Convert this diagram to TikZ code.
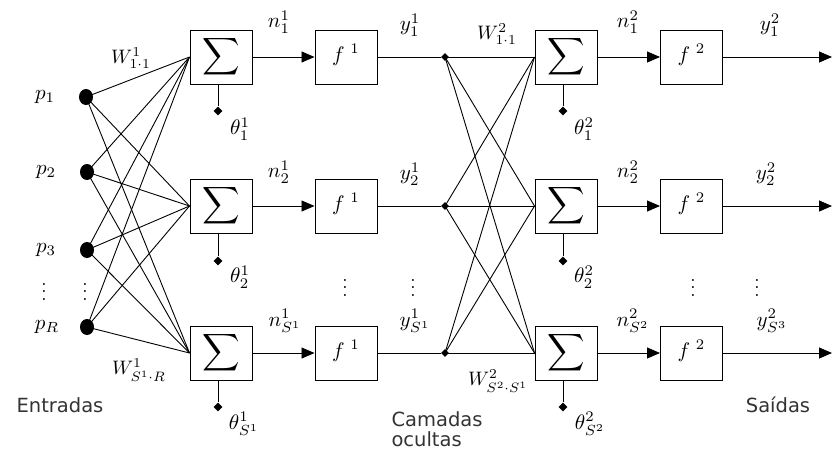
\documentclass[tikz,border=0pt]{standalone}
\usepackage{fontspec}
\setsansfont{DejaVu Sans}
\usetikzlibrary{arrows.meta,shapes.geometric}
\begin{document}
\begin{tikzpicture}[x=1pt,y=-1pt,
  box/.style={draw, line width=1pt, minimum width=62pt, minimum height=54pt, inner sep=0pt},
  lab/.style={scale=2.1, inner sep=0pt},
  wlab/.style={scale=1.95, inner sep=0pt},
  captxt/.style={font=\sffamily, scale=1.95, text=black!80, inner sep=0pt, align=left},
  sig/.style={scale=2.6, inner sep=0pt},
  flab/.style={scale=2.1, inner sep=0pt},
  inp/.style={ellipse, fill=black, minimum width=14pt, minimum height=16pt, inner sep=0pt},
  jn/.style={diamond, fill=black, minimum size=8pt, inner sep=0pt},
  bdot/.style={diamond, fill=black, minimum size=9pt, inner sep=0pt},
  wire/.style={line width=0.9pt},
  arr/.style={wire, -{Triangle[length=13pt,width=11pt]}},
  vd/.style={scale=1.9, inner sep=0pt}
]
\useasboundingbox (0,0) rectangle (834,453);

% inputs
\node[inp] (p1) at (86,97) {};
\node[inp] (p2) at (87,172) {};
\node[inp] (p3) at (87,250) {};
\node[inp] (pR) at (87,327) {};
\node[lab] (lp1) at (45,97) {$p_1$};
\node[lab] (lp2) at (46,172) {$p_2$};
\node[lab] (lp3) at (46,250) {$p_3$};
\node[lab] (lpR) at (47,327) {$p_R$};
\node[vd] (vd1) at (44,286) {$\vdots$};
\node[vd] (vd2) at (85,286) {$\vdots$};

% rows
\foreach \i/\y in {1/57,2/206,3/353}{
  \node[box] (s1\i) at (221,\y) {};
  \node[box] (f1\i) at (346,\y) {};
  \node[jn] (j\i) at (445,\y) {};
  \node[box] (s2\i) at (566,\y) {};
  \node[box] (f2\i) at (691.5,\y) {};
  \coordinate (o\i) at (832,\y);
  \node[sig] (sg1\i) at (s1\i) {$\displaystyle\sum$};
  \node[sig] (sg2\i) at (s2\i) {$\displaystyle\sum$};
  \node[flab] (ff1\i) at ([yshift=2pt]f1\i.center) {$f^{\,\,1}$};
  \node[flab] (ff2\i) at ([yshift=2pt]f2\i.center) {$f^{\,\,2}$};
  \draw[arr] (s1\i) -- (f1\i);
  \draw[wire] (f1\i) -- (j\i) -- (s2\i);
  \draw[arr] (s2\i) -- (f2\i);
  \draw[arr] (f2\i) -- (o\i);
}
\foreach \a in {p1,p2,p3,pR}{
  \foreach \b in {s11,s12,s13}{
    \draw[wire] (\a.center) -- (\b.west);
  }
}
\foreach \a in {j1,j2,j3}{
  \foreach \b in {s21,s22,s23}{
    \draw[wire] (\a.center) -- (\b.west);
  }
}

% biases
\node[bdot] (t11) at (218,111) {};
\node[bdot] (t12) at (218,261) {};
\node[bdot] (t13) at (218,407) {};
\node[bdot] (t21) at (563,111) {};
\node[bdot] (t22) at (563,261) {};
\node[bdot] (t23) at (563,407) {};
\foreach \i in {1,2,3}{
  \draw[wire] (s1\i.south -| t1\i) -- (t1\i);
  \draw[wire] (s2\i.south -| t2\i) -- (t2\i);
}
\node[lab] (lt11) at (240,129) {$\theta^1_1$};
\node[lab] (lt12) at (240,277) {$\theta^1_2$};
\node[lab] (lt13) at (244,424) {$\theta^1_{S^1}$};
\node[lab] (lt21) at (584,129) {$\theta^2_1$};
\node[lab] (lt22) at (584,277) {$\theta^2_2$};
\node[lab] (lt23) at (590,424) {$\theta^2_{S^2}$};

% weights
\node[wlab] (w1a) at (131,58) {$W^1_{1\cdot 1}$};
\node[wlab] (w1b) at (139,370) {$W^1_{S^1\cdot R}$};
\node[wlab] (w2a) at (497,34) {$W^2_{1\cdot 1}$};
\node[wlab] (w2b) at (498,381) {$W^2_{S^2\cdot S^1}$};

% signal labels
\node[lab] (n11) at (279,22) {$n^1_1$};
\node[lab] (n12) at (279,172) {$n^1_2$};
\node[lab] (n13) at (285,321) {$n^1_{S^1}$};
\node[lab] (y11) at (410,25) {$y^1_1$};
\node[lab] (y12) at (410,174) {$y^1_2$};
\node[lab] (y13) at (415,321) {$y^1_{S^1}$};
\node[lab] (n21) at (628,22) {$n^2_1$};
\node[lab] (n22) at (628,172) {$n^2_2$};
\node[lab] (n23) at (633,321) {$n^2_{S^2}$};
\node[lab] (y21) at (770,25) {$y^2_1$};
\node[lab] (y22) at (766,174) {$y^2_2$};
\node[lab] (y23) at (772,321) {$y^2_{S^3}$};

\node[vd] (vd3) at (345,282) {$\vdots$};
\node[vd] (vd4) at (413,282) {$\vdots$};
\node[vd] (vd5) at (693,282) {$\vdots$};
\node[vd] (vd6) at (757,282) {$\vdots$};

% captions
\node[captxt] (c1) at (60,405) {Entradas};
\node[captxt] (c2) at (437,429) {Camadas\\[-1.5pt]ocultas};
\node[captxt] (c3) at (778,405) {Saídas};
\end{tikzpicture}
\end{document}
